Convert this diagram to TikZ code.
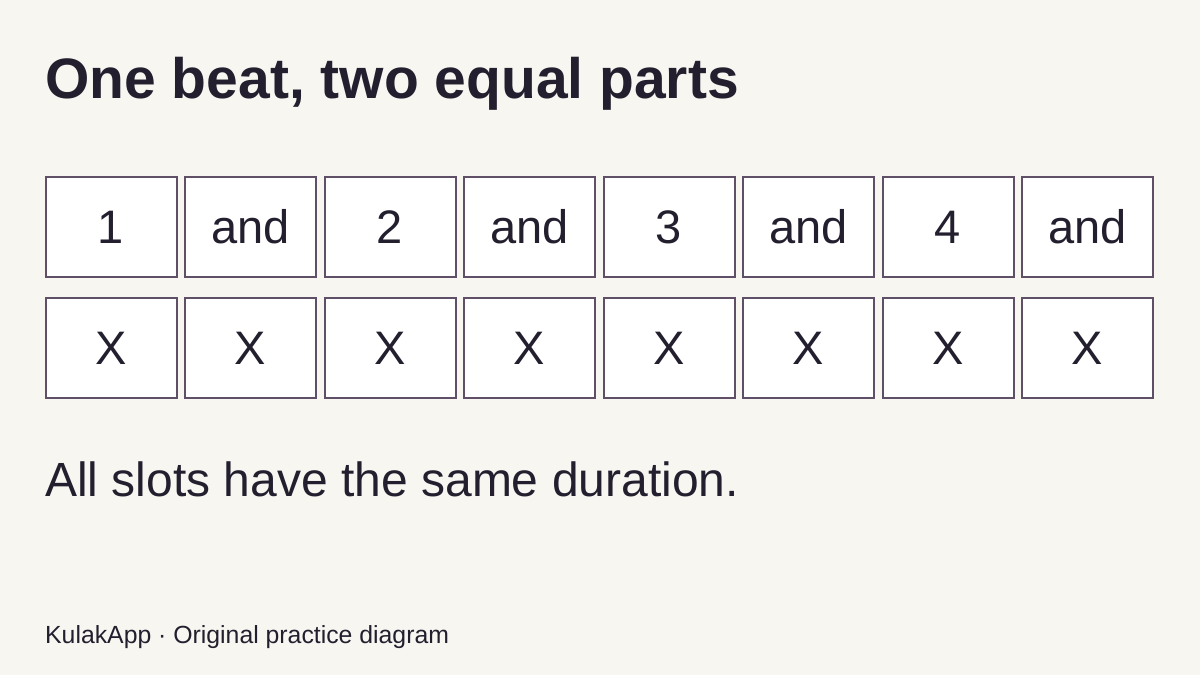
\documentclass[tikz,border=0pt]{standalone}
\usepackage{fontspec}
\setmainfont{Liberation Sans}
\usepackage{tikz}

\definecolor{paper}{HTML}{F8F6F1}
\definecolor{ink}{HTML}{231F2E}
\definecolor{edge}{HTML}{5F5068}

\begin{document}
\begin{tikzpicture}[x=1pt,y=-1pt,slot/.style={draw=edge,line width=2pt,fill=white,minimum width=131pt,minimum height=100pt,inner sep=0pt,text=ink,font=\fontsize{47}{50}\selectfont},txt/.style={anchor=base west,inner sep=0pt,text=ink}]
\fill[paper] (0,0) rectangle (1200,675);
\useasboundingbox (0,0) rectangle (1200,675);
\node[txt,font=\fontsize{57}{60}\selectfont\bfseries] (title) at (45,98) {One beat, two equal parts};
\foreach \i/\l in %
{0/1,1/and,2/2,3/and,4/3,5/and,6/4,7/and} {
   \node[slot] (count\i) at (111+\i*139.5,227) {\l};
   \node[slot] (hit\i) at (111+\i*139.5,348) {X};
}
\node[txt,font=\fontsize{48}{50}\selectfont] (note) at (45,496) {All slots have the same duration.};
\node[txt,font=\fontsize{24.8}{28}\selectfont] (credit) at (45,643) {KulakApp · Original practice diagram};
\end{tikzpicture}
\end{document}
